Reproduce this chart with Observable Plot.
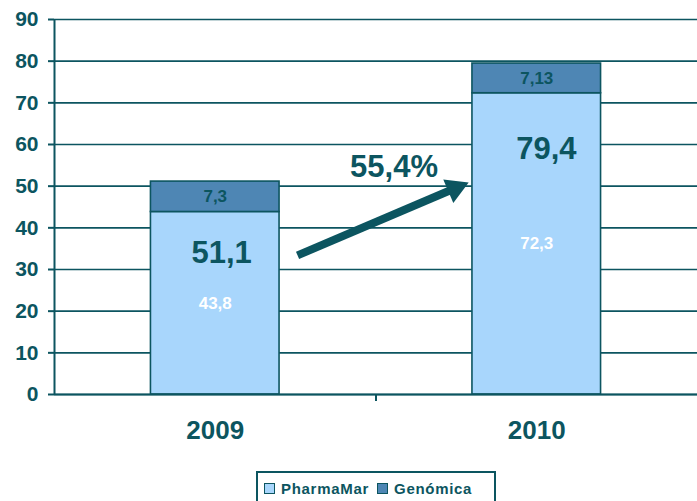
<!DOCTYPE html>
<html><head><meta charset="utf-8">
<script src="https://cdn.jsdelivr.net/npm/d3@7"></script>
<script src="https://cdn.jsdelivr.net/npm/@observablehq/plot@0.6"></script>
<style>
body{margin:0;background:#fff;font-family:"Liberation Sans",Arial,sans-serif;}
#legend{position:absolute;left:256px;top:471px;width:240px;height:34px;border:2px solid #0c5560;box-sizing:border-box;display:flex;align-items:center;padding-left:6px;gap:0;font-weight:bold;font-size:15px;color:#0c5560;letter-spacing:0.7px;background:#fff;}
.sw{display:inline-block;width:9px;height:9px;border:1.5px solid #0c5560;margin-right:6px;}
.item{display:flex;align-items:center;margin-right:8px;}
</style></head>
<body>
<div id="chart"></div>
<div id="legend"></div>
<script>
// ---- data ----
const years = ["2009", "2010"];
const pharmaMar = [43.8, 72.3];
const genomica = [7.3, 7.13];
const totals = [51.1, 79.4];
const growthLabel = "55,4%";
const seriesNames = ["PharmaMar", "Genómica"];
const seriesColors = ["#a8d6fc", "#4e86b4"];
const yTicks = [0, 10, 20, 30, 40, 50, 60, 70, 80, 90];

const teal = "#0c5560";
const fmt = v => String(v).replace(".", ",");
const half = 0.2; // half bar width in band units

const rows = [];
years.forEach((y, i) => {
  rows.push({i, series: seriesNames[0], y1: 0, y2: pharmaMar[i], v: pharmaMar[i]});
  rows.push({i, series: seriesNames[1], y1: pharmaMar[i], y2: pharmaMar[i] + genomica[i], v: genomica[i]});
});

// annotation positions (data coordinates)
const totalLabels = [
  {x: 0.02, y: 34, t: fmt(totals[0])},
  {x: 1.03, y: 59, t: fmt(totals[1])}
];
const arrowShaft = [{x1: 0.256, y1: 33.4, x2: 0.746, y2: 49.5}];
const arrowHead = [{x: 0.746, y: 49.5}];

const chart = Plot.plot({
  width: 697,
  height: 465,
  marginLeft: 54,
  marginRight: 0,
  marginTop: 19,
  marginBottom: 71,
  style: {fontFamily: '"Liberation Sans", Arial, sans-serif', background: "#fff"},
  x: {domain: [-0.5, 1.5]},
  y: {domain: [0, 90]},
  color: {domain: seriesNames, range: seriesColors},
  marks: [
    Plot.gridY(yTicks, {stroke: teal, strokeOpacity: 1, strokeWidth: 1.6}),
    Plot.rect(rows, {x1: d => d.i - half, x2: d => d.i + half, y1: "y1", y2: "y2", fill: "series", stroke: teal, strokeWidth: 1.6}),
    Plot.text(rows, {x: "i", y: d => (d.y1 + d.y2) / 2, text: d => fmt(d.v),
      fill: d => d.series === seriesNames[0] ? "#fff" : teal, fontSize: 17, fontWeight: "bold"}),
    Plot.text(totalLabels, {x: "x", y: "y", text: "t", fill: teal, fontSize: 31, fontWeight: "bold"}),
    Plot.text([growthLabel], {x: 0.556, y: 54.5, text: d => d, fill: teal, fontSize: 31, fontWeight: "bold"}),
    Plot.link(arrowShaft, {x1: "x1", y1: "y1", x2: "x2", y2: "y2", stroke: teal, strokeWidth: 8}),
    Plot.dot(arrowHead, {x: "x", y: "y", symbol: "triangle", r: 9.5, rotate: 66.9, fill: teal, stroke: "none"}),
    Plot.ruleX([-0.5], {stroke: teal, strokeWidth: 2}),
    Plot.ruleY([0], {stroke: teal, strokeWidth: 2}),
    Plot.axisY(yTicks, {tickSize: 6, tickPadding: 10, fontSize: 21, fontWeight: "bold", color: teal, strokeWidth: 2, label: null}),
    Plot.axisX([0, 1], {tickSize: 0, tickPadding: 26, tickFormat: i => years[i], fontSize: 26, fontWeight: "bold", color: teal, label: null}),
    Plot.axisX([0.5], {tickSize: 7, tickFormat: () => "", stroke: teal, strokeWidth: 2, label: null})
  ]
});
document.getElementById("chart").appendChild(chart);

const legend = document.getElementById("legend");
seriesNames.forEach((name, k) => {
  const item = document.createElement("span");
  item.className = "item";
  const sw = document.createElement("span");
  sw.className = "sw";
  sw.style.background = seriesColors[k];
  item.appendChild(sw);
  item.appendChild(document.createTextNode(name));
  legend.appendChild(item);
});
</script>
</body></html>
